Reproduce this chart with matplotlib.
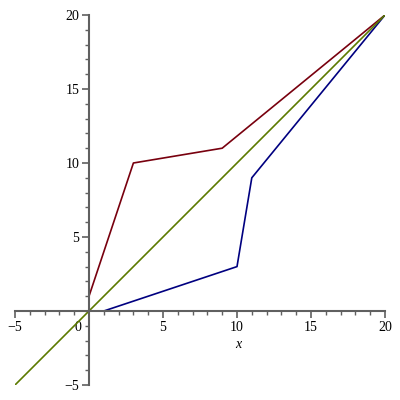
import matplotlib
matplotlib.use("Agg")
import matplotlib.pyplot as plt
import matplotlib.transforms as mtrans
from matplotlib.ticker import MultipleLocator

# piecewise-linear curves
red_x = [0, 3, 9, 20]
red_y = [1, 10, 11, 20]
blue_x = [1, 10, 11, 20]
blue_y = [0, 3, 9, 20]
diag_x = [-5, 20]
diag_y = [-5, 20]

xtick_vals = [-5, 0, 5, 10, 15, 20]
xtick_labels = ["\u22125", "0", "5", "10", "15", "20"]
ytick_vals = [-5, 5, 10, 15, 20]
ytick_labels = ["\u22125", "5", "10", "15", "20"]

RED, BLUE, GREEN = "#78000E", "#000080", "#5C7A00"
AXC = "#606060"

plt.rcParams["font.family"] = ["Liberation Serif", "DejaVu Serif"]
plt.rcParams["font.size"] = 10

fig = plt.figure(figsize=(4, 4), dpi=100)
ax = fig.add_axes([0.0375, 0.0375, 0.925, 0.925])

ax.plot(red_x, red_y, color=RED, lw=1.2)
ax.plot(blue_x, blue_y, color=BLUE, lw=1.2)
ax.plot(diag_x, diag_y, color=GREEN, lw=1.2)

ax.set_xlim(-5, 20)
ax.set_ylim(-5, 20)
for s in ("top", "right"):
    ax.spines[s].set_visible(False)
for s in ("left", "bottom"):
    ax.spines[s].set_position(("data", 0))
    ax.spines[s].set_color(AXC)
    ax.spines[s].set_linewidth(1.5)

ax.xaxis.set_minor_locator(MultipleLocator(1))
ax.yaxis.set_minor_locator(MultipleLocator(1))
ax.tick_params(which="major", direction="out", length=5, width=1.2, color=AXC, pad=2)
ax.tick_params(which="minor", direction="out", length=3, width=1.0, color=AXC)

ax.set_xticks(xtick_vals)
ax.set_xticklabels(xtick_labels)
ax.set_yticks(ytick_vals)
ax.set_yticklabels(ytick_labels)

# shift the "0" label left of the vertical axis
zero = ax.get_xticklabels()[1]
zero.set_transform(zero.get_transform() + mtrans.ScaledTranslation(-8 / 72, 0, fig.dpi_scale_trans))

ax.set_xlabel("x", style="italic", fontsize=10)
ax.xaxis.set_label_coords(0.603, 0.128, transform=ax.transAxes)

fig.savefig("out.png", dpi=100)
